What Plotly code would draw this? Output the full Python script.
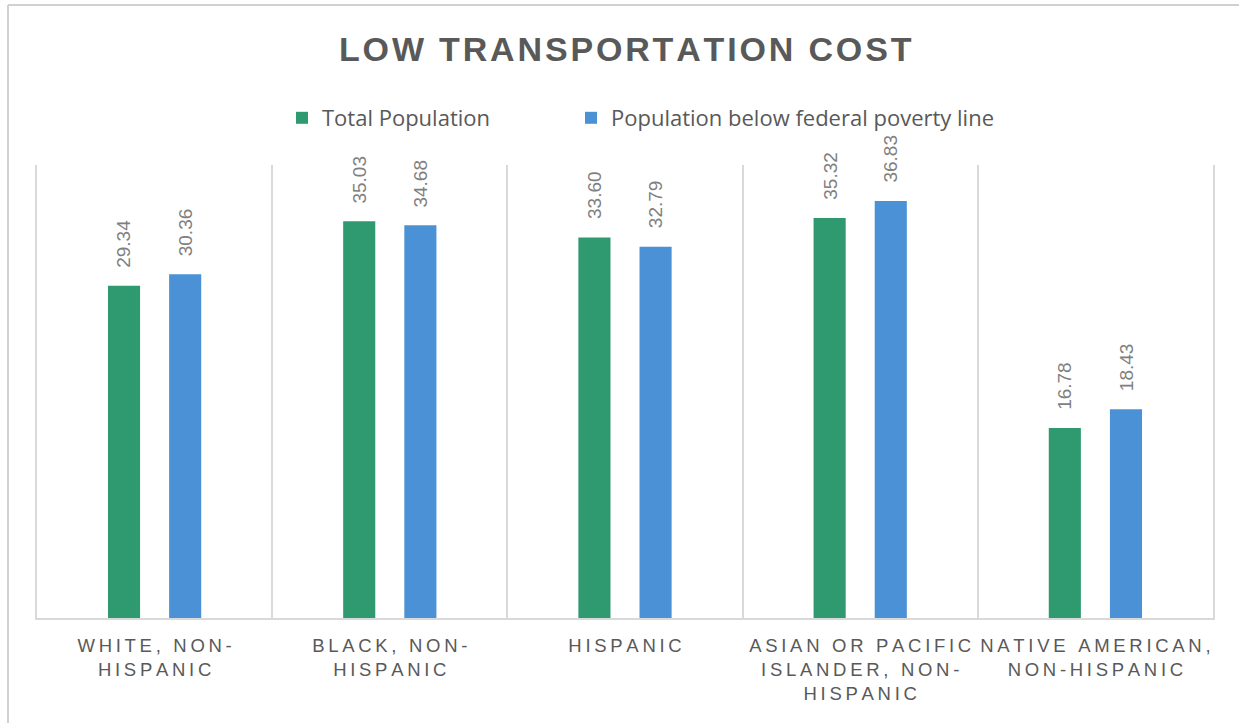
import plotly.graph_objects as go

# --- data -------------------------------------------------------------
categories = [
    "WHITE, NON-<br>HISPANIC",
    "BLACK, NON-<br>HISPANIC",
    "HISPANIC",
    "ASIAN OR PACIFIC<br>ISLANDER, NON-<br>HISPANIC",
    "NATIVE AMERICAN,<br>NON-HISPANIC",
]
total_population = [29.34, 35.03, 33.60, 35.32, 16.78]
below_poverty = [30.36, 34.68, 32.79, 36.83, 18.43]
series_names = ["Total Population", "Population below federal poverty line"]
title_text = "LOW TRANSPORTATION COST"

# --- styling ------------------------------------------------------------
GREEN = "#2F9A70"
BLUE = "#4A92D5"
TEXT_DARK = "#595959"
TEXT_LABEL = "#7F7F7F"
GRID = "#D9D9D9"
FONT = "Liberation Sans, Arial, sans-serif"
LEGEND_FONT = "Open Sans, Liberation Sans, sans-serif"

W, H = 1239, 723
L, R, T, B = 37, 26, 165, 105
PW, PH = W - L - R, H - T - B


def spaced(text, sep="\u2009"):
    """Letter-spaced version of a (possibly multi-line) label."""
    return "<br>".join(sep.join(line) for line in text.split("<br>"))


x_labels = [spaced(c) for c in categories]

fig = go.Figure()
fig.add_trace(go.Bar(x=x_labels, y=total_population, name=series_names[0],
                     marker=dict(color=GREEN, line=dict(width=0)), legend="legend"))
fig.add_trace(go.Bar(x=x_labels, y=below_poverty, name=series_names[1],
                     marker=dict(color=BLUE, line=dict(width=0)), legend="legend2"))

# value labels, rotated, above each bar
slot_px = 61
annotations = []
for vals, shift in ((total_population, -slot_px / 2), (below_poverty, slot_px / 2)):
    for i, v in enumerate(vals):
        annotations.append(dict(
            x=i, y=v, xref="x", yref="y", text=f"{v:.2f}", showarrow=False,
            textangle=-90, xanchor="center", yanchor="bottom",
            xshift=shift, yshift=16,
            font=dict(family=FONT, size=19, color=TEXT_LABEL),
        ))

# chart title
annotations.append(dict(
    x=(625 - L) / PW, y=(H - B - 49) / PH, xref="paper", yref="paper",
    text=f"<b>{spaced(title_text, sep=chr(0x200A))}</b>", showarrow=False,
    xanchor="center", yanchor="middle",
    font=dict(family=FONT, size=34, color=TEXT_DARK),
))

# outer chart frame (top and left edges)
frame = dict(color="#D0D0D0", width=2)
shapes = [
    dict(type="line", xref="paper", yref="paper",
         x0=(8 - L) / PW, x1=(W + 20 - L) / PW,
         y0=(H - B - 5) / PH, y1=(H - B - 5) / PH, line=frame),
    dict(type="line", xref="paper", yref="paper",
         x0=(8 - L) / PW, x1=(8 - L) / PW,
         y0=(H - B - 5) / PH, y1=(H - B - (H + 20)) / PH, line=frame),
]

legend_common = dict(
    orientation="h", yanchor="middle", xanchor="left",
    y=(H - B - 118) / PH,
    font=dict(family=LEGEND_FONT, size=22, color=TEXT_DARK),
    bgcolor="rgba(0,0,0,0)", itemclick=False,
)

fig.update_layout(
    width=W, height=H,
    margin=dict(l=L, r=R, t=T, b=B, pad=0, autoexpand=False),
    paper_bgcolor="white", plot_bgcolor="white",
    barmode="group", bargap=0.48, bargroupgap=0.475,
    font=dict(family=FONT, color=TEXT_DARK),
    showlegend=True,
    legend=dict(x=(282 - L) / PW, **legend_common),
    legend2=dict(x=(571 - L) / PW, **legend_common),
    annotations=annotations,
    shapes=shapes,
    xaxis=dict(
        type="category", categoryorder="array", categoryarray=x_labels,
        range=[-0.5, len(categories) - 0.5],
        tickson="boundaries", showgrid=True, gridcolor=GRID, gridwidth=2,
        showline=True, linecolor=GRID, linewidth=2,
        ticks="", tickangle=0, automargin=False,
        tickfont=dict(family=FONT, size=18.5, color=TEXT_DARK),
        ticklabelstandoff=10, zeroline=False,
    ),
    yaxis=dict(
        range=[0, 40], showgrid=False, zeroline=False, showticklabels=False,
        ticks="", showline=True, linecolor=GRID, linewidth=2, mirror=True,
        fixedrange=True, automargin=False,
    ),
)

fig.write_html("out.html")
